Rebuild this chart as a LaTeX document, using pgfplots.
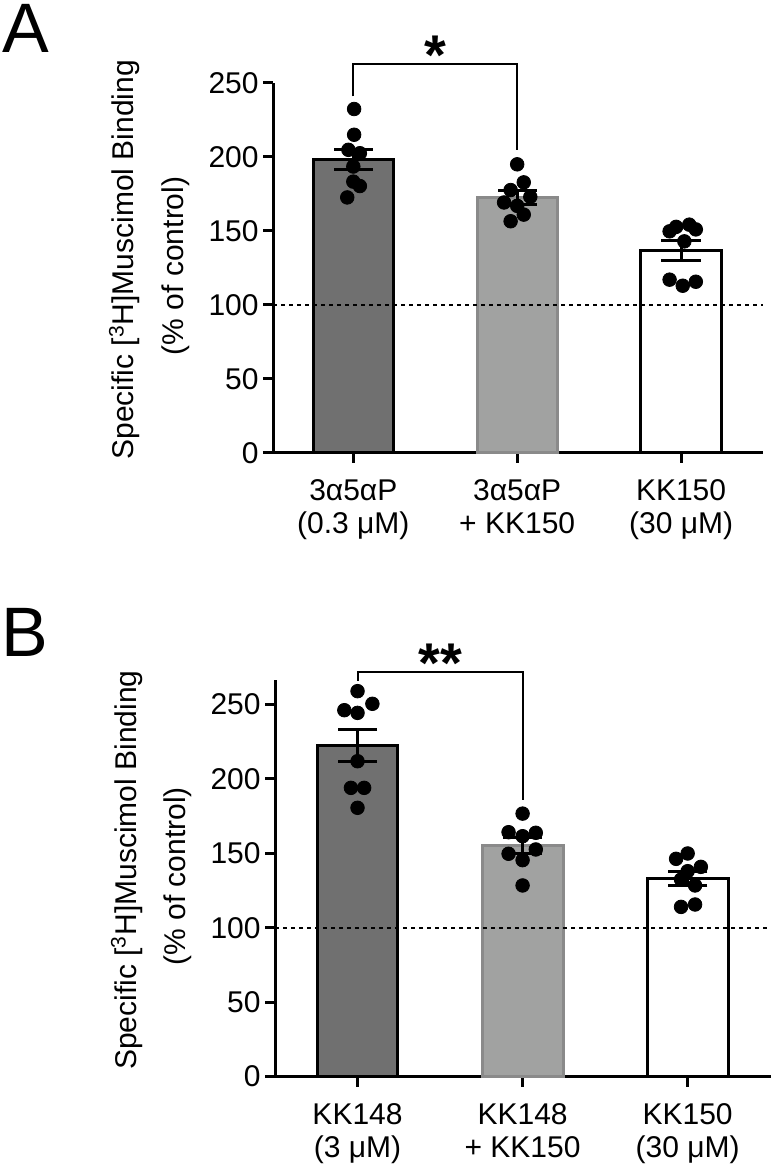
\documentclass[border=0pt]{standalone}
\usepackage{fontspec}
\setmainfont{Liberation Sans}
\usepackage{pgfplots}
\pgfplotsset{compat=1.18}
\definecolor{barA}{RGB}{112,112,112}
\definecolor{barB}{RGB}{161,162,161}
\definecolor{barBedge}{RGB}{138,138,138}
\pgfplotsset{
  panel/.style={
    scale only axis, clip=false,
    axis lines=left, axis line style={-, line width=1.5pt},
    tick style={black, line width=1.5pt},
    major tick length=5pt, tick align=outside,
    ymin=0, ytick={0,50,...,250},
    xtick={0,1,2},
    /pgf/number format/assume math mode=true,
    tick label style={font=\fontsize{15}{16.6}\selectfont},
    yticklabel style={inner xsep=2pt},
    xticklabel style={align=center, yshift=-5pt},
  },
  errbar/.style={black, line width=1.5pt, mark=-, mark size=9.8pt, mark options={line width=1.5pt, solid}},
  dots/.style={only marks, mark=*, mark size=3.4pt, black},
  refline/.style={black, line width=0.8pt, dash pattern=on 2pt off 2pt},
}
\newcommand{\ylab}{%
  \node[rotate=90, anchor=base, font=\fontsize{15}{16}\selectfont]
    at ([xshift=-69.5pt, yshift=4pt]rel axis cs:0,0.5) {Specific [\textsuperscript{3}H]Muscimol Binding};
  \node[rotate=90, anchor=base, font=\fontsize{15}{16}\selectfont]
    at ([xshift=-45pt, yshift=1pt]rel axis cs:0,0.5) {(\% of control)};
}
\begin{document}
\begin{tikzpicture}
\useasboundingbox (0pt,0pt) rectangle (386pt,582.5pt);
% ---------------- Panel A ----------------
\begin{axis}[panel, at={(136.5pt,356.15pt)}, anchor=south west,
  width=245pt, height=184.85pt,
  xmin=-0.49, xmax=2.5, ymax=250,
  xticklabels={{3α5αP\\(0.3 μM)},{3α5αP\\+ KK150},{KK150\\(30 μM)}}]
\addplot[ybar, bar shift=0pt, bar width=0.49, fill=barA, draw=black, line width=1.5pt] coordinates {(0,198)};
\addplot[ybar, bar shift=0pt, bar width=0.49, fill=barB, draw=barBedge, line width=1.5pt] coordinates {(1,172.7)};
\addplot[ybar, bar shift=0pt, bar width=0.49, fill=white, draw=black, line width=1.5pt] coordinates {(2,136.7)};
\addplot[refline] coordinates {(-0.49,100) (2.5,100)};
\addplot[dots] coordinates {
 (0.005,232.4) (0.005,215) (-0.03,204.8) (0.04,202.5) (0,193.5) (0,183.3) (0.04,180.3) (-0.037,172.6)
 (1,195) (1.04,182.8) (0.96,177.6) (1.08,173) (0.92,169.2) (1,166.9) (1.04,161) (0.96,156.5)
 (1.93,149.7) (1.97,152.7) (2.05,154.2) (2.09,151) (2.02,142.9) (1.93,117) (2.01,112.9) (2.09,115.6)};
\addplot[errbar] coordinates {(0,191.2) (0,204.8)};
\addplot[errbar] coordinates {(1,168.0) (1,177.4)};
\addplot[errbar] coordinates {(2,130.2) (2,143.2)};
\draw[line width=1.5pt] (axis cs:-0.552,0) -- (axis cs:-0.49,0);
\draw[line width=1pt] (axis cs:0,241) |- (axis cs:1,263) -- (axis cs:1,205);
\node[anchor=base, font=\bfseries\fontsize{28}{28}\selectfont] at (axis cs:0.5,256) {*};
\ylab
\end{axis}
% ---------------- Panel B ----------------
\begin{axis}[panel, at={(137.5pt,44.25pt)}, anchor=south west,
  width=248pt, height=198.25pt,
  xmin=-0.5, xmax=2.505, ymax=266.5,
  xticklabels={{KK148\\(3 μM)},{KK148\\+ KK150},{KK150\\(30 μM)}}]
\addplot[ybar, bar shift=0pt, bar width=0.49, fill=barA, draw=black, line width=1.5pt] coordinates {(0,222.6)};
\addplot[ybar, bar shift=0pt, bar width=0.49, fill=barB, draw=barBedge, line width=1.5pt] coordinates {(1,155.3)};
\addplot[ybar, bar shift=0pt, bar width=0.49, fill=white, draw=black, line width=1.5pt] coordinates {(2,133.2)};
\addplot[refline] coordinates {(-0.5,100) (2.505,100)};
\addplot[dots] coordinates {
 (0,259) (0.09,250.5) (-0.08,246.2) (0,244.4) (0,211.9) (-0.04,194) (0.04,194) (0,180.6)
 (1,176.7) (0.915,164.2) (1,161.5) (1.08,163.8) (0.915,149.7) (1.08,152.6) (1,145.4) (1,128.4)
 (2,149.9) (1.93,146.3) (2.08,140.9) (2,138) (1.96,132.4) (2.045,128.4) (1.96,114) (2.045,115.6)};
\addplot[errbar] coordinates {(0,211.9) (0,233.3)};
\addplot[errbar] coordinates {(1,150.1) (1,160.5)};
\addplot[errbar] coordinates {(2,128.4) (2,138.0)};
\draw[line width=1.5pt] (axis cs:-0.556,0) -- (axis cs:-0.5,0);
\draw[line width=1pt] (axis cs:0,266) |- (axis cs:1,271.8) -- (axis cs:1,186);
\node[anchor=base, font=\bfseries\fontsize{28}{28}\selectfont] at (axis cs:0.5,265) {**};
\ylab
\end{axis}
\node[anchor=north west, inner sep=0pt, font=\fontsize{35}{35}\selectfont] at (1pt,580.5pt) {A};
\node[anchor=north west, inner sep=0pt, font=\fontsize{35}{35}\selectfont] at (0.5pt,278.5pt) {B};
\end{tikzpicture}
\end{document}
